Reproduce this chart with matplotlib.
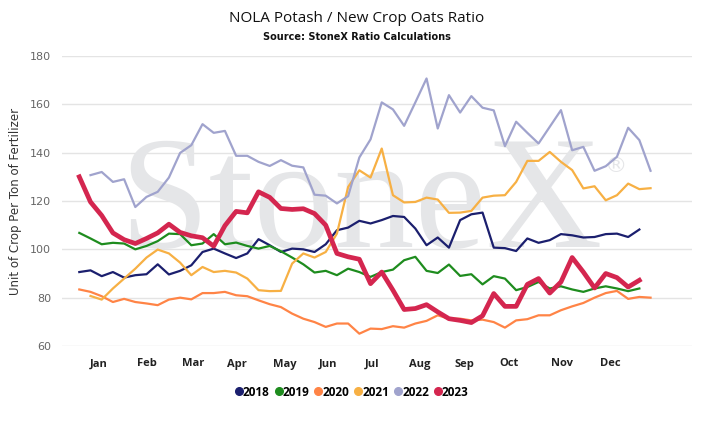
import numpy as np
import matplotlib
matplotlib.use('Agg')
import matplotlib.pyplot as plt
from matplotlib.lines import Line2D

# weekly ratio values (week index = position on x axis)
v2018 = [90.6, 91.3, 88.9, 90.6, 88.3, 89.3, 89.7, 93.8, 89.6, 91.1,
         93.4, 98.9, 100.3, 98.3, 96.4, 98.3, 104.2, 101.7, 98.9, 100.3,
         100.0, 98.9, 102.1, 107.9, 109.0, 111.8, 110.7, 112.1, 113.8, 113.4,
         108.6, 101.7, 104.9, 100.7, 112.1, 114.5, 115.2, 100.7, 100.5, 99.3,
         104.5, 102.7, 103.8, 106.3, 105.8, 104.9, 105.1, 106.3, 106.5, 105.1, 108.2]
v2019 = [106.8, 104.5, 102.1, 102.7, 102.4, 100.0, 101.4, 103.4, 106.5, 106.3,
         101.7, 102.4, 106.3, 102.1, 102.8, 101.4, 100.3, 101.4, 99.2, 96.6,
         93.8, 90.4, 91.1, 89.3, 92.0, 90.6, 88.6, 90.6, 91.6, 95.5,
         96.9, 91.1, 90.2, 93.7, 89.0, 89.7, 85.5, 88.9, 87.9, 83.1,
         84.4, 86.5, 83.8, 84.7, 83.4, 82.4, 83.8, 84.7, 83.8, 82.7, 83.8]
v2020 = [83.4, 82.4, 80.6, 78.2, 79.5, 78.2, 77.6, 76.9, 79.2, 80.0,
         79.3, 81.9, 81.9, 82.4, 81.0, 80.6, 78.9, 77.3, 76.1, 73.4,
         71.3, 69.9, 67.9, 69.3, 69.3, 65.1, 67.2, 67.0, 68.2, 67.6,
         69.3, 70.4, 72.7, 71.3, 71.3, 70.6, 70.9, 69.9, 67.6, 70.6,
         71.1, 72.7, 72.7, 74.8, 76.4, 77.8, 80.0, 81.9, 82.8, 79.5, 80.3, 80.0]
v2021 = [80.7, 79.2, 83.8, 87.9, 92.0, 96.6, 99.9, 98.3, 94.5,
         89.3, 92.7, 90.6, 91.1, 90.4, 87.9, 83.1, 82.7, 82.8, 94.1,
         98.3, 96.6, 98.9, 106.5, 125.8, 132.7, 129.7, 141.7, 122.4, 119.4,
         119.6, 121.4, 120.6, 115.1, 115.2, 115.9, 121.4, 122.2, 122.4, 127.9,
         136.6, 136.6, 140.3, 136.2, 132.8, 125.2, 126.1, 120.3, 122.4, 127.2, 124.9, 125.3]
v2022 = [130.7, 132.0, 127.9, 129.0, 117.5, 121.7, 123.8, 129.7, 139.9,
         143.1, 151.8, 148.2, 149.0, 138.7, 138.7, 136.2, 134.5, 136.9, 134.6,
         133.9, 122.6, 122.2, 119.0, 122.0, 138.0, 145.5, 160.8, 157.9, 151.1,
         160.8, 170.7, 150.0, 163.8, 156.6, 163.4, 158.6, 157.5, 142.7, 152.8,
         148.2, 143.8, 150.7, 157.6, 141.0, 142.4, 132.5, 134.4, 138.3, 150.3, 145.2, 132.5]
v2023 = [130.0, 119.6, 114.0, 106.8, 104.0, 102.4, 104.5, 106.8, 110.4, 107.0,
         105.6, 104.8, 101.3, 109.8, 115.7, 115.1, 123.8, 121.5, 116.9, 116.5,
         116.8, 114.8, 110.0, 98.3, 96.9, 95.9, 85.8, 90.6, 83.1, 75.1,
         75.5, 77.1, 74.1, 71.3, 70.6, 69.7, 72.5, 81.7, 76.4, 76.4,
         85.5, 87.9, 81.9, 86.5, 96.6, 90.6, 84.0, 90.0, 88.3, 84.4, 87.2]

# first week index of each series
start = {'2018': 0, '2019': 0, '2020': 0, '2021': 1, '2022': 1, '2023': 0}

months = ['Jan', 'Feb', 'Mar', 'Apr', 'May', 'Jun',
          'Jul', 'Aug', 'Sep', 'Oct', 'Nov', 'Dec']
month_pos = [1.70, 6.02, 10.13, 14.11, 18.31, 22.24,
             26.16, 30.42, 34.38, 38.40, 43.13, 47.38]

series = [('2018', v2018, '#1b1f6e', 1.6),
          ('2019', v2019, '#1e8c1e', 1.6),
          ('2020', v2020, '#ff8446', 1.6),
          ('2021', v2021, '#f7b044', 1.6),
          ('2022', v2022, '#a0a3cd', 1.6),
          ('2023', v2023, '#d4264f', 3.4)]

fig = plt.figure(figsize=(7.14, 4.23), dpi=100)
ax = fig.add_axes([62/714, 1 - 346/423, 630/714, 290/423])

for name, vals, col, lw in series:
    x = np.arange(len(vals)) + start[name]
    ax.plot(x, vals, color=col, lw=lw, zorder=3, solid_joinstyle='round')

ax.set_ylim(60, 180)
ax.set_xlim(-1.545, 54.7)
ax.set_yticks(range(60, 181, 20))
ax.set_xticks(month_pos)
ax.set_xticklabels(months, fontweight='bold', fontsize=8, color='#222222',
                   family='Open Sans')
ax.tick_params(axis='x', length=0, pad=9)
ax.tick_params(axis='y', length=0, pad=8, labelsize=8, labelcolor='#666666')
ax.grid(axis='y', color='#e4e4e4', lw=1)
ax.set_axisbelow(True)
for s in ax.spines.values():
    s.set_visible(False)

# watermark
ax.text(0.475, 0.341, 'StoneX', transform=ax.transAxes, ha='center',
        va='baseline', fontsize=116, family='Liberation Serif',
        color='#e5e6e8', zorder=1)
ax.text(0.88, 0.62, '\u00ae', transform=ax.transAxes, ha='center',
        va='center', fontsize=16, color='#e5e6e8', zorder=1)

ax.set_ylabel('Unit of Crop Per Ton of Fertilizer', fontsize=8.5,
              color='#333333')
ax.yaxis.set_label_coords(-0.063, 0.5)

fig.text(0.5, 0.957, 'NOLA Potash / New Crop Oats Ratio', ha='center',
         va='center', fontsize=11, family='Open Sans', color='#111111')
fig.text(0.5, 0.912, 'Source: StoneX Ratio Calculations', ha='center',
         va='center', fontsize=7, fontweight='bold', color='#111111')

handles = [Line2D([], [], ls='', marker='o', ms=5.5, color=c) for _, _, c, _ in series]
fig.legend(handles, [n for n, _, _, _ in series], loc='center',
           bbox_to_anchor=(0.493, 0.073), ncol=6, frameon=False,
           handlelength=0.6, handletextpad=0.05, columnspacing=0.45,
           prop={'weight': 'bold', 'size': 8.5, 'family': 'Open Sans'})

fig.savefig('out.png', dpi=100)
